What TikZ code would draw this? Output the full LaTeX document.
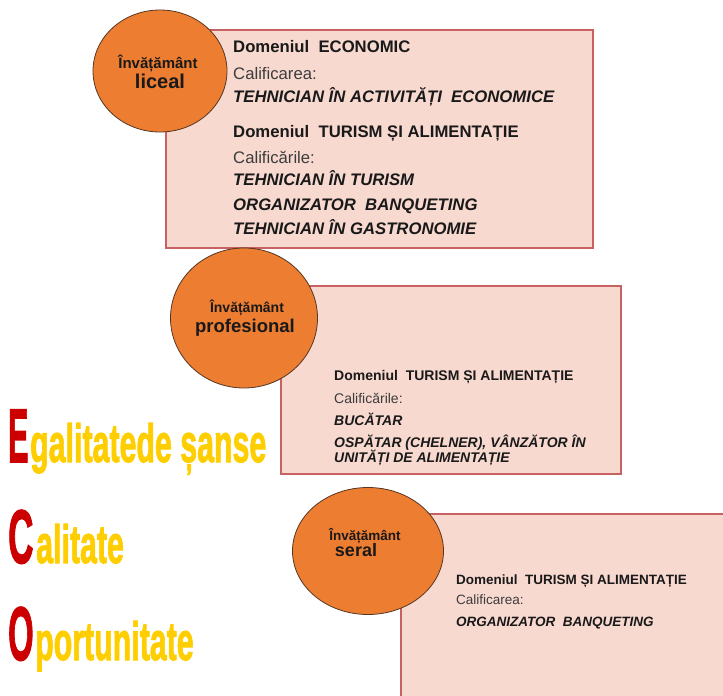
\documentclass[tikz,border=0pt]{standalone}
\usepackage{fontspec}
\setmainfont{Liberation Sans}
\newfontfamily\ecofont[FakeBold=2]{Liberation Sans Bold}
\usepackage{graphicx}
\usetikzlibrary{shapes.geometric}
\definecolor{boxfill}{RGB}{248,217,208}
\definecolor{boxborder}{RGB}{200,98,98}
\definecolor{discfill}{RGB}{237,125,49}
\definecolor{discborder}{RGB}{85,55,35}
\definecolor{txtdark}{RGB}{25,25,25}
\definecolor{txtgray}{RGB}{60,60,60}
\definecolor{ecored}{RGB}{204,0,0}
\definecolor{ecoyellow}{RGB}{255,206,0}
\newcommand\ecocap[2]{\scalebox{#1}[1]{\fontsize{76}{76}\ecofont #2}}
\newcommand\ecorest[1]{\scalebox{0.562}[1]{\fontsize{54}{54}\ecofont #1}}
\begin{document}
\begin{tikzpicture}[x=1pt,y=-1pt,
  panel/.style={draw=boxborder,fill=boxfill,line width=1.5pt,anchor=north west,inner sep=0pt},
  disc/.style={ellipse,draw=discborder,fill=discfill,line width=0.8pt,inner sep=0pt},
  lineA/.style={anchor=base west,inner sep=0pt,font=\fontsize{16.7}{18}\selectfont#1},
  lineB/.style={anchor=base west,inner sep=0pt,font=\fontsize{14}{16}\selectfont#1},
  lineC/.style={anchor=base west,inner sep=0pt,font=\fontsize{13.5}{15}\selectfont#1},
  hd/.style={text=txtdark},
  sub/.style={text=txtgray},
  qual/.style={text=txtdark},
  dsmall/.style={anchor=base,inner sep=0pt,text=txtdark,font=\fontsize{#1}{15}\selectfont\bfseries},
  dbig/.style={anchor=base,inner sep=0pt,text=txtdark,font=\fontsize{#1}{22}\selectfont\bfseries},
  ecoL/.style={anchor=base west,inner sep=0pt,text=ecored},
  ecoR/.style={anchor=base west,inner sep=0pt,text=ecoyellow}]
\useasboundingbox (0,0) rectangle (723,696);
% panels
\node[panel,minimum width=427pt,minimum height=218pt] (p1) at (165,29) {};
\node[panel,minimum width=340pt,minimum height=188pt] (p2) at (280,285) {};
\node[panel,minimum width=340pt,minimum height=200pt] (p3) at (400,513) {};
% discs
\node[disc,minimum width=134pt,minimum height=122pt] (c1) at (160,71) {};
\node[disc,minimum width=147pt,minimum height=140pt] (c2) at (244,318) {};
\node[disc,minimum width=151pt,minimum height=127pt] (c3) at (368,551) {};
% disc labels
\node[dsmall=15] (c1a) at (158,68) {Învățământ};
\node[dbig=20] (c1b) at (160,88) {liceal};
\node[dsmall=14] (c2a) at (247,312) {Învățământ};
\node[dbig=18.5] (c2b) at (245,332) {profesional};
\node[dsmall=13.5] (c3a) at (365,540) {Învățământ};
\node[dbig=18] (c3b) at (356,556) {seral};
% panel 1 text
\node[lineA=\bfseries,hd] (t11) at (233,52) {Domeniul\ \ ECONOMIC};
\node[lineA,sub] (t12) at (233,79) {Calificarea:};
\node[lineA=\bfseries\itshape,qual] (t13) at (233,102) {TEHNICIAN ÎN ACTIVITĂȚI\ \ ECONOMICE};
\node[lineA=\bfseries,hd] (t14) at (233,137) {Domeniul\ \ TURISM ȘI ALIMENTAȚIE};
\node[lineA,sub] (t15) at (233,163) {Calificările:};
\node[lineA=\bfseries\itshape,qual] (t16) at (233,185) {TEHNICIAN ÎN TURISM};
\node[lineA=\bfseries\itshape,qual] (t17) at (233,210) {ORGANIZATOR\ \ BANQUETING};
\node[lineA=\bfseries\itshape,qual] (t18) at (233,234) {TEHNICIAN ÎN GASTRONOMIE};
% panel 2 text
\node[lineB=\bfseries,hd] (t21) at (334,380) {Domeniul\ \ TURISM ȘI ALIMENTAȚIE};
\node[lineB,sub] (t22) at (334,403) {Calificările:};
\node[lineB=\bfseries\itshape,qual] (t23) at (334,425) {BUCĂTAR};
\node[lineB=\bfseries\itshape,qual] (t24) at (334,447) {OSPĂTAR (CHELNER), VÂNZĂTOR ÎN};
\node[lineB=\bfseries\itshape,qual] (t25) at (334,462) {UNITĂȚI DE ALIMENTAȚIE};
% panel 3 text
\node[lineC=\bfseries,hd] (t31) at (456,584) {Domeniul\ \ TURISM ȘI ALIMENTAȚIE};
\node[lineC,sub] (t32) at (456,604) {Calificarea:};
\node[lineC=\bfseries\itshape,qual] (t33) at (456,626) {ORGANIZATOR\ \ BANQUETING};
% ECO
\node[ecoL] (e1) at (8,462) {\ecocap{0.40}{E}};
\node[ecoR] (e2) at (30,462) {\ecorest{galitatede șanse}};
\node[ecoL] (e3) at (8,563) {\ecocap{0.46}{C}};
\node[ecoR] (e4) at (36,563) {\ecorest{alitate}};
\node[ecoL] (e5) at (8,660) {\ecocap{0.43}{O}};
\node[ecoR] (e6) at (35,660) {\ecorest{portunitate}};
\end{tikzpicture}
\end{document}
